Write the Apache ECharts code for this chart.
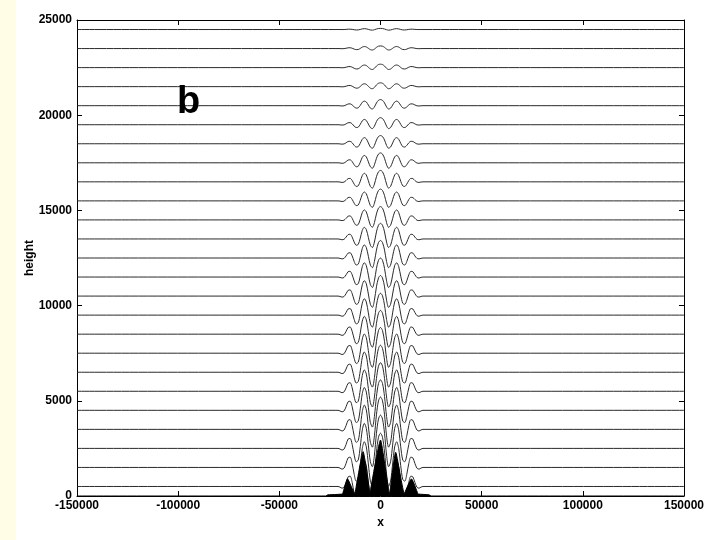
<!DOCTYPE html>
<html>
<head>
<meta charset="utf-8">
<script src="https://cdn.jsdelivr.net/npm/echarts@6/dist/echarts.min.js"></script>
<style>
  html, body { margin: 0; padding: 0; background: #ffffff; }
  #strip { position: absolute; left: 0; top: 0; width: 16px; height: 540px; background: #fffde6; }
  #main { position: absolute; left: 0; top: 0; width: 707px; height: 540px; }
</style>
</head>
<body>
<div id="strip"></div>
<div id="main"></div>
<script>
// baselines of the stacked traces (height units)
var baselines = [500, 1500, 2500, 3500, 4500, 5500, 6500, 7500, 8500, 9500, 10500, 11500, 12500,
                 13500, 14500, 15500, 16500, 17500, 18500, 19500, 20500, 21500, 22500, 23500, 24500];
// central peak size of each trace, same order as baselines
var amps = [1800, 1800, 1750, 1700, 1600, 1500, 1420, 1350, 1250, 1150, 1080, 1000, 920,
            820, 700, 620, 600, 520, 430, 370, 320, 200, 180, 140, 60];
// shape of one trace (x in metres, y relative to the centre peak)
var profileX = [-22000, -21000, -20000, -19000, -18000, -17000, -16000, -15000, -14000, -13000, -12000,
                -11000, -10000, -9000, -8000, -7000, -6000, -5000, -4000, -3000, -2000, -1000, 0,
                1000, 2000, 3000, 4000, 5000, 6000, 7000, 8000, 9000, 10000, 11000, 12000, 13000,
                14000, 15000, 16000, 17000, 18000, 19000, 20000, 21000, 22000];
var profileY = [0, 0, -0.02, -0.05, -0.02, 0.12, 0.28, 0.3, 0.12, -0.2, -0.4,
                -0.35, 0.05, 0.55, 0.75, 0.6, 0.1, -0.4, -0.55, -0.2, 0.45, 0.88, 1.0,
                0.88, 0.45, -0.2, -0.55, -0.4, 0.1, 0.6, 0.75, 0.55, 0.05, -0.35, -0.4, -0.2,
                0.12, 0.3, 0.28, 0.12, -0.02, -0.05, -0.02, 0, 0];
// filled intensity at the bottom
var fillX = [-150000, -27000, -26000, -22000, -19000, -18700, -16300, -12600,
             -12400, -8600, -5200, -5000, 0, 4600, 4800, 7500, 11800, 12000, 15300, 18500, 18800,
             24000, 25000, 150000];
var fillY = [0, 0, 60, 80, 100, 120, 900, 120,
             150, 2330, 150, 120, 2940, 120, 120, 2300, 120, 120, 900, 120, 100,
             60, 0, 0];

var xTicks = [-150000, -100000, -50000, 0, 50000, 100000, 150000];
var yTicks = [0, 5000, 10000, 15000, 20000, 25000];

var myChart = echarts.init(document.getElementById('main'), null, { renderer: 'canvas' });

var series = [];
for (var k = 0; k < baselines.length; k++) {
  var pts = [[-150000, baselines[k]]];
  for (var i = 0; i < profileX.length; i++) {
    pts.push([profileX[i], baselines[k] + amps[k] * profileY[i]]);
  }
  pts.push([150000, baselines[k]]);
  series.push({
    type: 'line',
    data: pts,
    symbol: 'none',
    smooth: 0.3,
    lineStyle: { color: '#2a2a2a', width: 1 },
    silent: true,
    z: 2
  });
}
series.push({
  type: 'line',
  data: fillX.map(function (x, i) { return [x, fillY[i]]; }),
  symbol: 'none',
  smooth: 0.15,
  lineStyle: { color: '#000', width: 1 },
  areaStyle: { color: '#000', opacity: 1, origin: 0 },
  silent: true,
  z: 5
});

var labelFont = { color: '#000', fontFamily: 'Liberation Sans', fontWeight: 'bold', fontSize: 12 };
var nameFont = { color: '#000', fontFamily: 'Liberation Sans', fontWeight: 'bold', fontSize: 12 };
function plain(v) { return String(v); }

option = {
  animation: false,
  backgroundColor: 'transparent',
  grid: { left: 77, right: 23, top: 20, bottom: 44, containLabel: false },
  xAxis: [
    {
      type: 'value', min: -150000, max: 150000, interval: 50000,
      name: 'x', nameLocation: 'middle', nameGap: 21, nameMoveOverlap: false,
      nameTextStyle: nameFont,
      axisLine: { show: true, onZero: false, lineStyle: { color: '#000', width: 1 } },
      axisTick: { show: true, inside: true, length: 5, lineStyle: { color: '#000' } },
      axisLabel: Object.assign({ margin: 4, formatter: plain }, labelFont),
      splitLine: { show: false }
    },
    {
      type: 'value', position: 'top', min: -150000, max: 150000, interval: 50000,
      axisLine: { show: true, onZero: false, lineStyle: { color: '#000', width: 1 } },
      axisTick: { show: true, inside: true, length: 5, lineStyle: { color: '#000' } },
      axisLabel: { show: false },
      splitLine: { show: false }
    }
  ],
  yAxis: [
    {
      type: 'value', min: 0, max: 25000, interval: 5000,
      name: 'height', nameLocation: 'middle', nameGap: 41, nameRotate: 90, nameMoveOverlap: false,
      nameTextStyle: nameFont,
      axisLine: { show: true, onZero: false, lineStyle: { color: '#000', width: 1 } },
      axisTick: { show: true, inside: true, length: 5, lineStyle: { color: '#000' } },
      axisLabel: Object.assign({ margin: 5, formatter: plain }, labelFont),
      splitLine: { show: false }
    },
    {
      type: 'value', position: 'right', min: 0, max: 25000, interval: 5000,
      axisLine: { show: true, onZero: false, lineStyle: { color: '#000', width: 1 } },
      axisTick: { show: true, inside: true, length: 5, lineStyle: { color: '#000' } },
      axisLabel: { show: false },
      splitLine: { show: false }
    }
  ],
  graphic: [
    {
      type: 'text', left: 177, top: 84,
      style: { text: 'b', fill: '#000', font: 'bold 38px "Liberation Sans"' },
      z: 10
    }
  ],
  series: series
};

myChart.setOption(option);
</script>
</body>
</html>
